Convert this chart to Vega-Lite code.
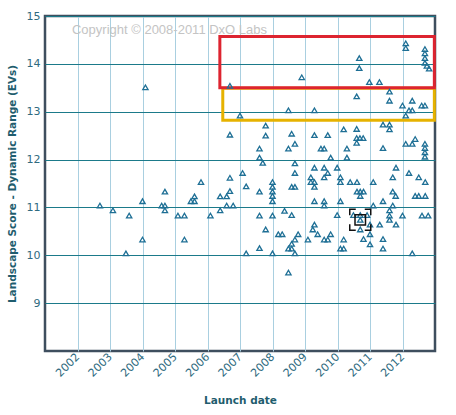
{
  "$schema": "https://vega.github.io/schema/vega-lite/v6.json",
  "autosize": "none",
  "width": 390,
  "height": 335,
  "padding": {"left": 45, "top": 16, "right": 21, "bottom": 64},
  "background": "white",
  "config": {
    "view": {"stroke": "#3e4e5e", "strokeWidth": 2.5},
    "axis": {
      "labelFont": "DejaVu Sans",
      "labelFontSize": 11,
      "labelColor": "#2f6b80",
      "titleFont": "DejaVu Sans",
      "titleFontSize": 10.5,
      "titleFontWeight": "bold",
      "titleColor": "#1f5d6e",
      "ticks": false,
      "domain": false,
      "gridOpacity": 1
    }
  },
  "datasets": {
    "cameras": [
      {"launch": 2002.69, "dr": 11.04}, {"launch": 2003.09, "dr": 10.94}, {"launch": 2003.59, "dr": 10.83},
      {"launch": 2003.49, "dr": 10.04}, {"launch": 2004.0, "dr": 11.13}, {"launch": 2004.0, "dr": 10.33},
      {"launch": 2004.09, "dr": 13.51}, {"launch": 2004.69, "dr": 11.33}, {"launch": 2004.59, "dr": 11.04},
      {"launch": 2004.69, "dr": 11.04}, {"launch": 2004.69, "dr": 10.94}, {"launch": 2005.09, "dr": 10.83},
      {"launch": 2005.29, "dr": 10.83}, {"launch": 2005.29, "dr": 10.33}, {"launch": 2005.49, "dr": 11.13},
      {"launch": 2005.6, "dr": 11.23}, {"launch": 2005.6, "dr": 11.13}, {"launch": 2005.8, "dr": 11.53},
      {"launch": 2006.09, "dr": 10.83}, {"launch": 2006.39, "dr": 11.23}, {"launch": 2006.39, "dr": 10.94},
      {"launch": 2006.59, "dr": 11.04}, {"launch": 2006.59, "dr": 11.23}, {"launch": 2006.69, "dr": 11.34},
      {"launch": 2006.79, "dr": 11.04}, {"launch": 2006.69, "dr": 11.62}, {"launch": 2006.69, "dr": 12.52},
      {"launch": 2006.69, "dr": 13.54}, {"launch": 2007.0, "dr": 12.92}, {"launch": 2007.08, "dr": 11.72},
      {"launch": 2007.19, "dr": 11.44}, {"launch": 2007.6, "dr": 11.33}, {"launch": 2007.6, "dr": 10.83},
      {"launch": 2007.79, "dr": 10.54}, {"launch": 2007.6, "dr": 10.15}, {"launch": 2007.19, "dr": 10.04},
      {"launch": 2007.79, "dr": 12.71}, {"launch": 2007.79, "dr": 12.5}, {"launch": 2007.6, "dr": 12.23},
      {"launch": 2007.6, "dr": 12.04}, {"launch": 2007.7, "dr": 11.93}, {"launch": 2008.0, "dr": 11.53},
      {"launch": 2008.0, "dr": 11.43}, {"launch": 2008.0, "dr": 11.33}, {"launch": 2008.0, "dr": 11.24},
      {"launch": 2008.0, "dr": 11.13}, {"launch": 2008.0, "dr": 10.83}, {"launch": 2008.0, "dr": 10.04},
      {"launch": 2008.37, "dr": 10.93}, {"launch": 2008.18, "dr": 10.44}, {"launch": 2008.3, "dr": 10.44},
      {"launch": 2008.9, "dr": 13.72}, {"launch": 2008.49, "dr": 13.03}, {"launch": 2009.29, "dr": 13.03},
      {"launch": 2008.59, "dr": 12.54}, {"launch": 2009.29, "dr": 12.51}, {"launch": 2009.7, "dr": 12.51},
      {"launch": 2010.19, "dr": 12.63}, {"launch": 2008.69, "dr": 12.33}, {"launch": 2008.49, "dr": 12.23},
      {"launch": 2009.49, "dr": 12.23}, {"launch": 2009.59, "dr": 12.23}, {"launch": 2010.29, "dr": 12.23},
      {"launch": 2009.79, "dr": 12.04}, {"launch": 2010.29, "dr": 12.04}, {"launch": 2008.69, "dr": 11.92},
      {"launch": 2009.29, "dr": 11.83}, {"launch": 2009.59, "dr": 11.83}, {"launch": 2009.99, "dr": 11.83},
      {"launch": 2009.7, "dr": 11.72}, {"launch": 2008.69, "dr": 11.72}, {"launch": 2009.59, "dr": 11.63},
      {"launch": 2009.18, "dr": 11.63}, {"launch": 2010.09, "dr": 11.63}, {"launch": 2009.18, "dr": 11.53},
      {"launch": 2009.29, "dr": 11.53}, {"launch": 2010.09, "dr": 11.53}, {"launch": 2010.39, "dr": 11.53},
      {"launch": 2009.29, "dr": 11.43}, {"launch": 2008.59, "dr": 11.43}, {"launch": 2008.69, "dr": 11.43},
      {"launch": 2009.29, "dr": 11.13}, {"launch": 2009.59, "dr": 11.13}, {"launch": 2009.59, "dr": 11.04},
      {"launch": 2010.09, "dr": 11.13}, {"launch": 2008.59, "dr": 10.84}, {"launch": 2009.99, "dr": 10.84},
      {"launch": 2010.49, "dr": 10.84}, {"launch": 2009.29, "dr": 10.64}, {"launch": 2009.24, "dr": 10.54},
      {"launch": 2008.79, "dr": 10.44}, {"launch": 2009.39, "dr": 10.44}, {"launch": 2009.79, "dr": 10.44},
      {"launch": 2008.69, "dr": 10.33}, {"launch": 2009.09, "dr": 10.33}, {"launch": 2009.59, "dr": 10.33},
      {"launch": 2009.7, "dr": 10.33}, {"launch": 2010.19, "dr": 10.33}, {"launch": 2008.59, "dr": 10.24},
      {"launch": 2008.49, "dr": 10.14}, {"launch": 2008.59, "dr": 10.14}, {"launch": 2008.69, "dr": 10.04},
      {"launch": 2010.09, "dr": 10.14}, {"launch": 2010.19, "dr": 10.14}, {"launch": 2008.49, "dr": 9.64},
      {"launch": 2010.67, "dr": 14.12}, {"launch": 2010.67, "dr": 13.91}, {"launch": 2010.98, "dr": 13.62},
      {"launch": 2011.29, "dr": 13.62}, {"launch": 2012.1, "dr": 14.43}, {"launch": 2012.1, "dr": 14.33},
      {"launch": 2012.69, "dr": 14.31}, {"launch": 2012.69, "dr": 14.22}, {"launch": 2012.69, "dr": 14.12},
      {"launch": 2012.69, "dr": 14.02}, {"launch": 2012.75, "dr": 13.96}, {"launch": 2012.82, "dr": 13.9},
      {"launch": 2011.6, "dr": 13.42}, {"launch": 2011.6, "dr": 13.23}, {"launch": 2010.59, "dr": 13.32},
      {"launch": 2012.0, "dr": 13.13}, {"launch": 2012.3, "dr": 13.23}, {"launch": 2012.59, "dr": 13.13},
      {"launch": 2012.69, "dr": 13.13}, {"launch": 2012.2, "dr": 13.03}, {"launch": 2012.3, "dr": 13.03},
      {"launch": 2012.1, "dr": 12.92}, {"launch": 2010.59, "dr": 12.64}, {"launch": 2010.59, "dr": 12.45},
      {"launch": 2010.69, "dr": 12.45}, {"launch": 2010.79, "dr": 12.45}, {"launch": 2010.59, "dr": 12.35},
      {"launch": 2011.4, "dr": 12.73}, {"launch": 2011.6, "dr": 12.73}, {"launch": 2011.6, "dr": 12.63},
      {"launch": 2011.4, "dr": 12.24}, {"launch": 2012.1, "dr": 12.33}, {"launch": 2012.3, "dr": 12.33},
      {"launch": 2012.39, "dr": 12.43}, {"launch": 2012.69, "dr": 12.33}, {"launch": 2012.69, "dr": 12.24},
      {"launch": 2012.69, "dr": 12.15}, {"launch": 2012.69, "dr": 12.06}, {"launch": 2011.8, "dr": 11.83},
      {"launch": 2012.2, "dr": 11.72}, {"launch": 2011.7, "dr": 11.63}, {"launch": 2012.5, "dr": 11.63},
      {"launch": 2012.7, "dr": 11.53}, {"launch": 2010.6, "dr": 11.53}, {"launch": 2011.1, "dr": 11.53},
      {"launch": 2010.6, "dr": 11.33}, {"launch": 2010.7, "dr": 11.33}, {"launch": 2010.8, "dr": 11.33},
      {"launch": 2010.7, "dr": 11.24}, {"launch": 2011.7, "dr": 11.33}, {"launch": 2011.79, "dr": 11.24},
      {"launch": 2012.39, "dr": 11.24}, {"launch": 2012.5, "dr": 11.24}, {"launch": 2012.7, "dr": 11.24},
      {"launch": 2011.4, "dr": 11.13}, {"launch": 2011.1, "dr": 11.04}, {"launch": 2011.7, "dr": 11.04},
      {"launch": 2011.6, "dr": 10.94}, {"launch": 2011.6, "dr": 10.83}, {"launch": 2011.6, "dr": 10.74},
      {"launch": 2012.0, "dr": 10.83}, {"launch": 2012.6, "dr": 10.83}, {"launch": 2012.79, "dr": 10.83},
      {"launch": 2010.7, "dr": 10.84}, {"launch": 2010.91, "dr": 10.84}, {"launch": 2010.7, "dr": 10.74},
      {"launch": 2011.0, "dr": 10.64}, {"launch": 2011.3, "dr": 10.64}, {"launch": 2011.8, "dr": 10.64},
      {"launch": 2010.7, "dr": 10.54}, {"launch": 2011.0, "dr": 10.44}, {"launch": 2010.8, "dr": 10.34},
      {"launch": 2011.0, "dr": 10.23}, {"launch": 2011.4, "dr": 10.34}, {"launch": 2011.4, "dr": 10.14},
      {"launch": 2012.3, "dr": 10.04}
    ],
    "zones": [
      {"zone": "good", "x1": 2006.47, "x2": 2012.98, "y1": 12.82, "y2": 13.49},
      {"zone": "best", "x1": 2006.38, "x2": 2012.98, "y1": 13.5, "y2": 14.57}
    ],
    "selected": [{"launch": 2010.7, "dr": 10.74}],
    "note": [{"launch": 2001.83, "dr": 14.71, "text": "Copyright © 2008-2011 DxO Labs"}]
  },
  "encoding": {
    "x": {
      "field": "launch",
      "type": "quantitative",
      "scale": {"domain": [2001, 2013], "nice": false, "zero": false},
      "axis": {
        "title": "Launch date",
        "values": [2002, 2003, 2004, 2005, 2006, 2007, 2008, 2009, 2010, 2011, 2012],
        "format": "d",
        "labelAngle": -45,
        "labelAlign": "right",
        "labelBaseline": "middle",
        "labelPadding": 4,
        "titlePadding": 17,
        "grid": true,
        "gridColor": "#a9cfe0",
        "gridWidth": 1
      }
    },
    "y": {
      "field": "dr",
      "type": "quantitative",
      "scale": {"domain": [8, 15], "nice": false, "zero": false},
      "axis": {
        "title": "Landscape Score - Dynamic Range (EVs)",
        "values": [9, 10, 11, 12, 13, 14, 15],
        "labelPadding": 5,
        "titlePadding": 9,
        "grid": true,
        "gridColor": "#1b7a8a",
        "gridWidth": 1
      }
    }
  },
  "layer": [
    {
      "data": {"name": "zones"},
      "mark": {"type": "rect", "filled": false, "strokeWidth": 3},
      "encoding": {
        "x": {"field": "x1", "type": "quantitative"},
        "x2": {"field": "x2"},
        "y": {"field": "y1", "type": "quantitative"},
        "y2": {"field": "y2"},
        "stroke": {
          "field": "zone",
          "type": "nominal",
          "scale": {"domain": ["good", "best"], "range": ["#e6b200", "#dd2430"]},
          "legend": null
        }
      }
    },
    {
      "data": {"name": "cameras"},
      "mark": {"type": "point", "shape": "triangle-up", "filled": false, "size": 28, "strokeWidth": 1.3, "color": "#1e6f95", "opacity": 1}
    },
    {
      "data": {"name": "selected"},
      "mark": {"type": "point", "shape": "square", "filled": false, "size": 441, "strokeWidth": 1.5, "color": "#111111", "opacity": 1, "strokeDash": [12, 9], "strokeDashOffset": 6}
    },
    {
      "data": {"name": "selected"},
      "mark": {"type": "point", "shape": "square", "filled": false, "size": 110, "strokeWidth": 1.5, "color": "#111111", "opacity": 1}
    },
    {
      "data": {"name": "note"},
      "mark": {"type": "text", "align": "left", "baseline": "middle", "font": "Liberation Sans", "fontSize": 13, "color": "#c4c4c4"},
      "encoding": {"text": {"field": "text"}}
    }
  ]
}
